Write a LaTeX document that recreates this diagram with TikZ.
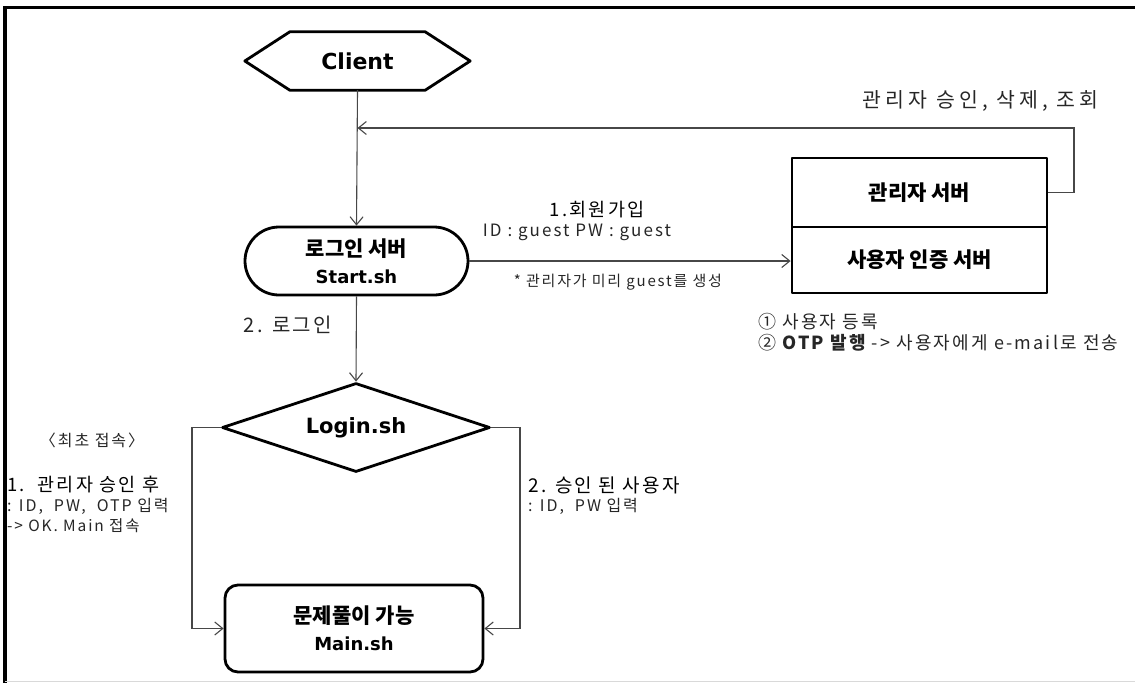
\documentclass[tikz,border=0pt]{standalone}
\usepackage{fontspec}
\setmainfont{Noto Sans CJK KR}
\newfontfamily\lbl{Noto Sans CJK KR}[LetterSpace=12]
\newfontfamily\lblw{Noto Sans CJK KR}[LetterSpace=20]
\newfontfamily\lat{DejaVu Sans}
\usetikzlibrary{arrows.meta,shapes.geometric,shapes.misc,calc}

\begin{document}
\begin{tikzpicture}[x=1pt,y=-1pt,
  outline/.style={draw=black,line width=2.8pt,line join=round},
  conn/.style={draw=black!72,line width=1.1pt},
  arr/.style={conn,-{Straight Barb[length=8pt,width=13pt,line width=1.1pt]}},
  ktitle/.style={font=\fontsize{21}{27}\selectfont\bfseries,align=center},
  lab/.style={inner sep=0pt,text=black!85},
]
\useasboundingbox (0,0) rectangle (1135,683);

% outer frame
\draw[line width=3.5pt] (1135,7.5) -- (5,7.5) -- (5,683);
\draw[black!15,line width=1pt] (5,681.5) -- (1135,681.5);

% Client (hexagon drawn around the node)
\node[minimum width=135pt,minimum height=58pt,inner sep=0pt,
      font=\lat\bfseries\fontsize{22}{26}\selectfont] (client) at (357.5,61) {Client};
\draw[outline] (client.north west) -- (client.north east) -- ($(client.east)+(45,0)$)
  -- (client.south east) -- (client.south west) -- ($(client.west)+(-45,0)$) -- cycle;

% login server
\node[outline,rounded rectangle,minimum width=223pt,minimum height=68pt,inner sep=0pt,ktitle]
  (login) at (356.5,261) {로그인 서버\\{\lat\fontsize{18}{20}\selectfont Start.sh}};

% admin / user authentication servers
\node[outline,rectangle,minimum width=255pt,minimum height=69pt,inner sep=0pt,ktitle]
  (admin) at (919.5,192.5) {관리자 서버};
\node[outline,rectangle,minimum width=255pt,minimum height=66pt,inner sep=0pt,ktitle]
  (auth) at (919.5,260) {사용자 인증 서버};

% Login.sh decision
\node[outline,diamond,shape aspect=3,minimum width=268pt,minimum height=89pt,inner sep=0pt,
      font=\lat\bfseries\fontsize{21}{24}\selectfont] (logsh) at (356,427.5) {Login.sh};

% Main.sh
\node[outline,rectangle,rounded corners=13pt,minimum width=258pt,minimum height=87pt,inner sep=0pt,ktitle]
  (mainbox) at (354,628.5) {문제풀이 가능\\{\lat\fontsize{18}{20}\selectfont Main.sh}};

% helper coordinates for the elbow connectors
\coordinate (fb) at (1074,128);
\coordinate (lb) at (192,0);
\coordinate (rb) at (520,0);

% connectors
\draw[arr] (client.south) -- (login.north);
\draw[arr] (admin.east) -| (fb) -- (fb -| client.south);
\draw[arr] (login.east) -- (login.east -| auth.west);
\draw[arr] (login.south) -- (logsh.north);
\draw[arr] (logsh.west) -- (logsh.west -| lb) |- (mainbox.west);
\draw[arr] (logsh.east) -- (logsh.east -| rb) |- (mainbox.east);

% labels
\node[lab,anchor=east,font=\lblw\fontsize{20.5}{24}\selectfont] (fbtxt) at (1099,101) {관리자 승인, 삭제, 조회};
\node[lab,text=black,font=\lbl\fontsize{18.5}{22}\selectfont] (jointxt) at (597,210) {1.회원가입};
\node[lab,font=\lbl\fontsize{17}{20}\selectfont] (idtxt) at (577,232) {ID : guest PW : guest};
\node[lab,font=\lbl\fontsize{15}{18}\selectfont] (notetxt) at (618,282) {* 관리자가 미리 guest를 생성};
\node[lab,font=\lbl\fontsize{20}{24}\selectfont] (logintxt) at (288,325) {2. 로그인};
\node[lab,anchor=west,font=\lbl\fontsize{18}{21}\selectfont] (reg1) at (758,322) {① 사용자 등록};
\node[lab,anchor=west,font=\lbl\fontsize{18}{21}\selectfont] (reg2) at (758,343)
  {② {\bfseries OTP 발행} -> 사용자에게 e-mail로 전송};
\node[lab,font=\lbl\fontsize{16}{19}\selectfont] (firsttxt) at (92,440) {〈최초 접속〉};
\node[lab,anchor=west,text=black,font=\lbl\fontsize{18.5}{21}\selectfont] (l1) at (7,485) {1.\ \ 관리자 승인 후};
\node[lab,anchor=west,font=\lbl\fontsize{16}{19}\selectfont] (l2) at (7,506) {: ID,\ \ PW,\ \ OTP 입력};
\node[lab,anchor=west,font=\lbl\fontsize{15.5}{18}\selectfont] (l3) at (7,526) {-> OK. Main 접속};
\node[lab,anchor=west,text=black,font=\lbl\fontsize{19}{22}\selectfont] (r1) at (528,485) {2. 승인 된 사용자};
\node[lab,anchor=west,font=\lbl\fontsize{16}{19}\selectfont] (r2) at (528,506) {: ID,\ \ PW 입력};
\end{tikzpicture}
\end{document}
